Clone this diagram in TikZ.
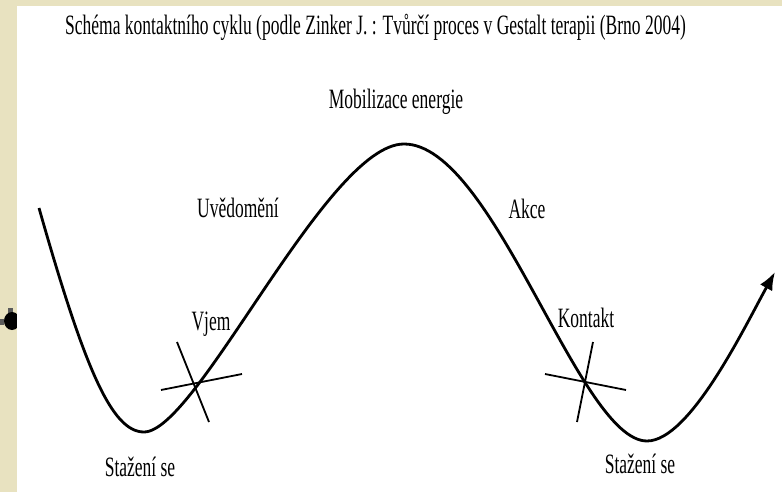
\documentclass[tikz,border=0pt]{standalone}
\usepackage{fontspec}
\usetikzlibrary{arrows.meta}
\newfontfamily\condserif[FakeStretch=0.625]{Liberation Serif}
\definecolor{beigebg}{RGB}{232,226,192}
\definecolor{bulletgray}{RGB}{90,90,90}
\tikzset{
  lbl/.style={font=\condserif\fontsize{28}{32}\selectfont, inner sep=0pt, anchor=base},
  wave/.style={line width=2.8pt, line join=round},
  crossline/.style={line width=1.8pt},
}
\begin{document}
\begin{tikzpicture}[x=1pt,y=-1pt]
\useasboundingbox (0,0) rectangle (782,492);
% background
\fill[beigebg] (0,0) rectangle (782,492);
% bullet
\fill[bulletgray] (8,308) rectangle (13,314);
\fill[bulletgray] (0,319) rectangle (4,325);
\fill[black] (12,321) ellipse [x radius=8pt, y radius=9pt];
% white area
\fill[white] (17,6) rectangle (782,492);

% labels
\node[lbl, anchor=base west] (title) at (65,35) {Schéma kontaktního cyklu (podle Zinker J. : Tvůrčí proces v Gestalt terapii (Brno 2004)};
\node[lbl] (mob) at (396,109) {Mobilizace energie};
\node[lbl] (uved) at (238,217) {Uvědomění};
\node[lbl] (akce) at (527,218) {Akce};
\node[lbl] (vjem) at (211,330) {Vjem};
\node[lbl] (kont) at (586,327) {Kontakt};
\node[lbl] (staz1) at (140,476) {Stažení se};
\node[lbl] (staz2) at (640,473) {Stažení se};

% curve
\coordinate (s) at (39,208);
\coordinate (m1) at (144,432);
\coordinate (top) at (404,144);
\coordinate (m2) at (647,441);
\coordinate (tip) at (775,272);
\draw[wave, -{Latex[length=18pt,width=14pt]}]
  (s) .. controls (85,370) and (112,432) .. (m1)
      .. controls (197,432) and (327,144) .. (top)
      .. controls (494,144) and (579,441) .. (m2)
      .. controls (690,441) and (745,326) .. (tip);

% crosses
\coordinate (c1a) at (177,342); \coordinate (c1b) at (209,422);
\coordinate (c1c) at (161,390); \coordinate (c1d) at (242,374);
\coordinate (c2a) at (593,342); \coordinate (c2b) at (577,422);
\coordinate (c2c) at (545,374); \coordinate (c2d) at (626,390);
\draw[crossline] (c1a) -- (c1b);
\draw[crossline] (c1c) -- (c1d);
\draw[crossline] (c2a) -- (c2b);
\draw[crossline] (c2c) -- (c2d);
\end{tikzpicture}
\end{document}
